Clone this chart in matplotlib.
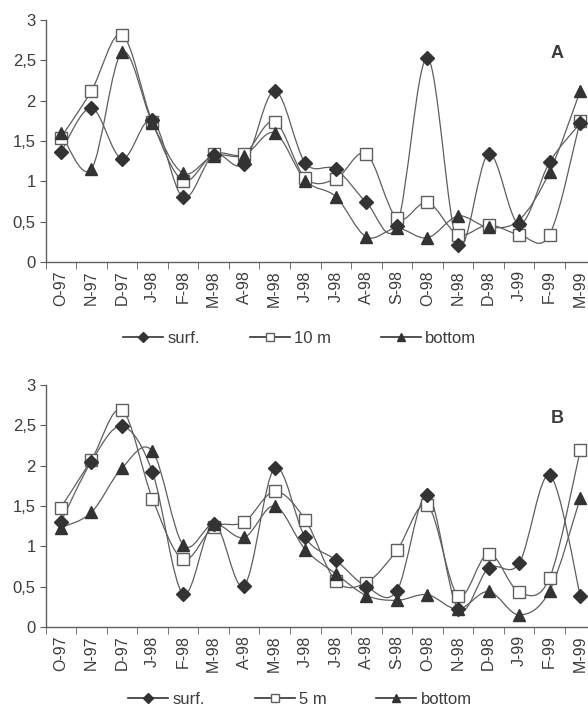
import matplotlib

matplotlib.use("Agg")
import matplotlib.pyplot as plt
import numpy as np
from matplotlib.lines import Line2D
from matplotlib.patches import PathPatch
from matplotlib.path import Path

plt.rcParams["font.family"] = ["Liberation Sans Narrow", "Liberation Sans", "DejaVu Sans"]

months = ["O-97", "N-97", "D-97", "J-98", "F-98", "M-98", "A-98", "M-98", "J-98",
          "J-98", "A-98", "S-98", "O-98", "N-98", "D-98", "J-99", "F-99", "M-99"]
y_ticks = [0, 0.5, 1, 1.5, 2, 2.5, 3]
y_tick_labels = ["0", "0,5", "1", "1,5", "2", "2,5", "3"]

# panel A
a_surf = [1.36, 1.91, 1.28, 1.76, 0.80, 1.33, 1.22, 2.12, 1.23, 1.15,
          0.74, 0.45, 2.53, 0.21, 1.34, 0.47, 1.24, 1.72]
a_10m = [1.54, 2.12, 2.82, 1.73, 1.01, 1.34, 1.34, 1.74, 1.04, 1.03,
         1.34, 0.54, 0.74, 0.34, 0.46, 0.34, 0.34, 1.75]
a_bottom = [1.60, 1.15, 2.60, 1.72, 1.10, 1.32, 1.32, 1.60, 1.01, 0.81,
            0.31, 0.42, 0.30, 0.57, 0.43, 0.52, 1.12, 2.12]

# panel B
b_surf = [1.30, 2.05, 2.49, 1.92, 0.41, 1.28, 0.51, 1.97, 1.11, 0.83,
          0.50, 0.45, 1.64, 0.22, 0.73, 0.79, 1.88, 0.39]
b_5m = [1.48, 2.07, 2.69, 1.59, 0.84, 1.24, 1.30, 1.68, 1.33, 0.57,
        0.55, 0.95, 1.51, 0.39, 0.91, 0.43, 0.61, 2.19]
b_bottom = [1.23, 1.42, 1.97, 2.18, 1.02, 1.28, 1.11, 1.50, 0.96, 0.66,
            0.39, 0.33, 0.40, 0.22, 0.44, 0.15, 0.45, 1.60]

LINE = "#5e5e5e"
DARK = "#333333"
TEXT = "#3c3c3c"


def smooth_path(x, y):
    # Bezier segments with Catmull-Rom style control points (like spreadsheet smoothing)
    pts = np.column_stack([x, y])
    padded = np.vstack([pts[0], pts, pts[-1]])
    verts = [pts[0]]
    codes = [Path.MOVETO]
    for i in range(len(pts) - 1):
        p0, p1, p2, p3 = padded[i], padded[i + 1], padded[i + 2], padded[i + 3]
        verts += [p1 + (p2 - p0) / 6, p2 - (p3 - p1) / 6, p2]
        codes += [Path.CURVE4] * 3
    return Path(verts, codes)


def draw_series(axis, values, marker, face, size):
    x = np.arange(len(values))
    patch = PathPatch(smooth_path(x, np.array(values)), facecolor="none",
                      edgecolor=LINE, linewidth=0.9, zorder=2)
    axis.add_patch(patch)
    axis.plot(x, values, linestyle="none", marker=marker, markersize=size,
              markerfacecolor=face, markeredgecolor=DARK if face != "white" else LINE,
              markeredgewidth=1.0, zorder=3)


def style_axis(axis, tag):
    axis.set_xlim(-0.5, len(months) - 0.5)
    axis.set_ylim(0, 3)
    axis.set_yticks(y_ticks)
    axis.set_yticklabels(y_tick_labels, fontsize=12, color=TEXT)
    axis.set_xticks(np.arange(len(months)))
    axis.set_xticklabels(months, rotation=90, fontsize=11.5, color=TEXT)
    axis.set_xticks(np.arange(len(months) + 1) - 0.5, minor=True)
    axis.tick_params(axis="x", which="major", length=0, pad=6)
    axis.tick_params(axis="x", which="minor", length=5, color=LINE, direction="out")
    axis.tick_params(axis="y", length=4, color=LINE, direction="out", pad=3)
    for side in ["top", "right"]:
        axis.spines[side].set_visible(False)
    for side in ["left", "bottom"]:
        axis.spines[side].set_color(LINE)
        axis.spines[side].set_linewidth(1.0)
    axis.text(0.93, 0.86, tag, transform=axis.transAxes, fontsize=13,
              fontweight="bold", color=TEXT, ha="center", va="center")


def legend_handles(depth_label):
    return [
        Line2D([], [], color=DARK, lw=1.2, marker="D", markersize=5,
               markerfacecolor=DARK, markeredgecolor=DARK, label="surf."),
        Line2D([], [], color=DARK, lw=1.2, marker="s", markersize=6,
               markerfacecolor="white", markeredgecolor=LINE, label=depth_label),
        Line2D([], [], color=DARK, lw=1.2, marker="^", markersize=6,
               markerfacecolor=DARK, markeredgecolor=DARK, label="bottom"),
    ]


def main() -> None:
    figure = plt.figure(figsize=(5.88, 7.09), dpi=100)
    ax_a = figure.add_axes([0.0774, 0.6305, 0.9354, 0.3413])
    ax_b = figure.add_axes([0.0774, 0.1157, 0.9354, 0.3413])

    for axis, surf, mid, bottom, tag in [
        (ax_a, a_surf, a_10m, a_bottom, "A"),
        (ax_b, b_surf, b_5m, b_bottom, "B"),
    ]:
        draw_series(axis, mid, "s", "white", 8)
        draw_series(axis, bottom, "^", DARK, 9)
        draw_series(axis, surf, "D", DARK, 7)
        style_axis(axis, tag)

    for depth_label, y_pos in [("10 m", 0.523), ("5 m", 0.013)]:
        figure.legend(handles=legend_handles(depth_label), loc="center",
                      bbox_to_anchor=(0.51, y_pos), ncol=3, frameon=False,
                      fontsize=12, handlelength=2.4, handletextpad=0.25,
                      columnspacing=3.0, labelcolor=TEXT)

    figure.savefig("out.png", dpi=100)


if __name__ == "__main__":
    main()
